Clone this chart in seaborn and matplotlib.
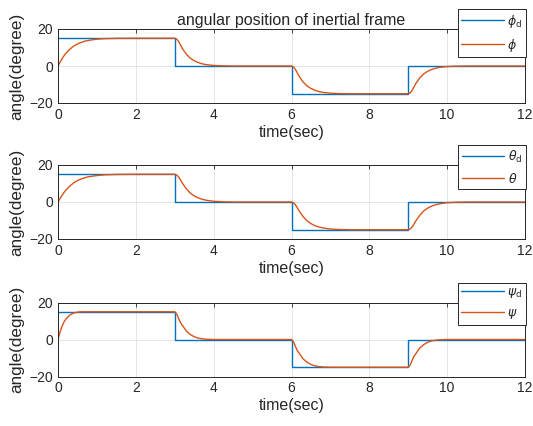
import matplotlib
matplotlib.use("Agg")
import matplotlib.pyplot as plt
import pandas as pd
import seaborn as sns

# ---------------- data ----------------
time = [0, 0.05, 0.1, 0.15, 0.2, 0.3, 0.4, 0.5, 0.6, 0.7, 0.8, 1.0, 1.2, 1.5, 2.0, 3.0,
        3.05, 3.1, 3.15, 3.2, 3.3, 3.4, 3.5, 3.6, 3.7, 3.8, 4.0, 4.2, 4.5, 5.0, 6.0,
        6.05, 6.1, 6.15, 6.2, 6.3, 6.4, 6.5, 6.6, 6.7, 6.8, 7.0, 7.2, 7.5, 8.0, 9.0,
        9.05, 9.1, 9.15, 9.2, 9.3, 9.4, 9.5, 9.6, 9.7, 9.8, 10.0, 10.2, 10.5, 11.0, 12.0]

phi = [0, 2.0, 3.8, 5.4, 6.8, 9.0, 10.7, 11.9, 12.8, 13.5, 13.9, 14.5, 14.8, 14.95, 15, 15,
       14.55, 13.2, 11.25, 9.3, 6.3, 4.2, 2.85, 1.9, 1.2, 0.75, 0.3, 0.1, 0, 0, 0,
       -0.45, -1.8, -3.75, -5.7, -8.7, -10.8, -12.15, -13.1, -13.8, -14.25, -14.7, -14.9, -15, -15, -15,
       -14.55, -13.2, -11.25, -9.3, -6.3, -4.2, -2.85, -1.9, -1.2, -0.75, -0.3, -0.1, 0, 0, 0]

theta = [0, 1.8, 3.5, 5.0, 6.4, 8.6, 10.3, 11.6, 12.5, 13.2, 13.7, 14.3, 14.7, 14.9, 15, 15,
         14.6, 13.5, 11.85, 10.05, 7.05, 4.8, 3.3, 2.25, 1.5, 0.98, 0.38, 0.15, 0, 0, 0,
         -0.38, -1.5, -3.15, -4.95, -7.95, -10.2, -11.7, -12.75, -13.5, -14.0, -14.6, -14.85, -15, -15, -15,
         -14.6, -13.5, -11.85, -10.05, -7.05, -4.8, -3.3, -2.25, -1.5, -0.98, -0.38, -0.15, 0, 0, 0]

psi = [0, 3.8, 7.0, 9.3, 11.0, 13.2, 14.3, 14.8, 15, 15, 15, 15, 15, 15, 15, 15,
       13.8, 11.25, 9.0, 7.5, 4.5, 2.7, 1.5, 0.75, 0.38, 0.15, 0, 0, 0, 0, 0,
       -1.2, -3.75, -6.0, -7.5, -10.5, -12.3, -13.5, -14.25, -14.6, -14.85, -15, -15, -15, -15, -15,
       -13.8, -11.25, -9.0, -7.5, -4.5, -2.7, -1.5, -0.75, -0.38, -0.15, 0, 0, 0, 0, 0]

step_time = [0, 3, 3, 6, 6, 9, 9, 12]
step_ref = [15, 15, 0, 0, -15, -15, 0, 0]

x_ticks = [0, 2, 4, 6, 8, 10, 12]
y_ticks = [-20, 0, 20]
title_text = "angular position of inertial frame"
x_label = "time(sec)"
y_label = "angle(degree)"
ref_labels = [r"$\phi_{\rm d}$", r"$\theta_{\rm d}$", r"$\psi_{\rm d}$"]
act_labels = [r"$\phi$", r"$\theta$", r"$\psi$"]
actual_series = [phi, theta, psi]

# ---------------- style ----------------
sns.set_theme(style="white")
plt.rcParams["font.family"] = ["Liberation Sans", "DejaVu Sans"]
plt.rcParams["axes.edgecolor"] = "#262626"
plt.rcParams["axes.linewidth"] = 0.7

BLUE = "#0072BD"
ORANGE = "#D95319"
TXT = "#262626"

W, H = 533, 426
fig = plt.figure(figsize=(W / 100, H / 100), dpi=100)
fig.patch.set_facecolor("white")

ax_left, ax_right = 58, 525
ax_tops = [29, 165, 302.5]
ax_h = 74

for i in range(3):
    top = ax_tops[i]
    ax = fig.add_axes([ax_left / W, 1 - (top + ax_h) / H, (ax_right - ax_left) / W, ax_h / H])
    ref_df = pd.DataFrame({"t": step_time, "v": step_ref})
    act_df = pd.DataFrame({"t": time, "v": actual_series[i]})
    sns.lineplot(data=ref_df, x="t", y="v", ax=ax, color=BLUE, lw=1.0,
                 estimator=None, sort=False, label=ref_labels[i])
    sns.lineplot(data=act_df, x="t", y="v", ax=ax, color=ORANGE, lw=1.0,
                 estimator=None, sort=False, label=act_labels[i])
    ax.set_xlim(0, 12)
    ax.set_ylim(-20, 20)
    ax.set_xticks(x_ticks)
    ax.set_yticks(y_ticks)
    ax.grid(True, color="#e0e0e0", lw=0.6)
    ax.set_axisbelow(True)
    ax.tick_params(direction="in", top=True, right=True, length=3, width=0.6,
                   labelsize=10, colors=TXT, pad=3.5)
    ax.set_xlabel(x_label, fontsize=11.5, color=TXT, labelpad=2)
    ax.set_ylabel(y_label, fontsize=12.3, color=TXT, labelpad=4)
    if i == 0:
        ax.set_title(title_text, fontsize=11.5, color=TXT, pad=3)
    leg = ax.legend(loc="upper right", bbox_to_anchor=(1 + 1 / 467, 1 + 20 / ax_h),
                    borderaxespad=0, frameon=True, fancybox=False, framealpha=1,
                    edgecolor="#262626", fontsize=9, handlelength=3.4,
                    handletextpad=0.3, labelspacing=0.56, borderpad=0.28)
    leg.get_frame().set_linewidth(0.7)
    leg.set_zorder(10)

fig.savefig("out.png", dpi=100, facecolor="white")
